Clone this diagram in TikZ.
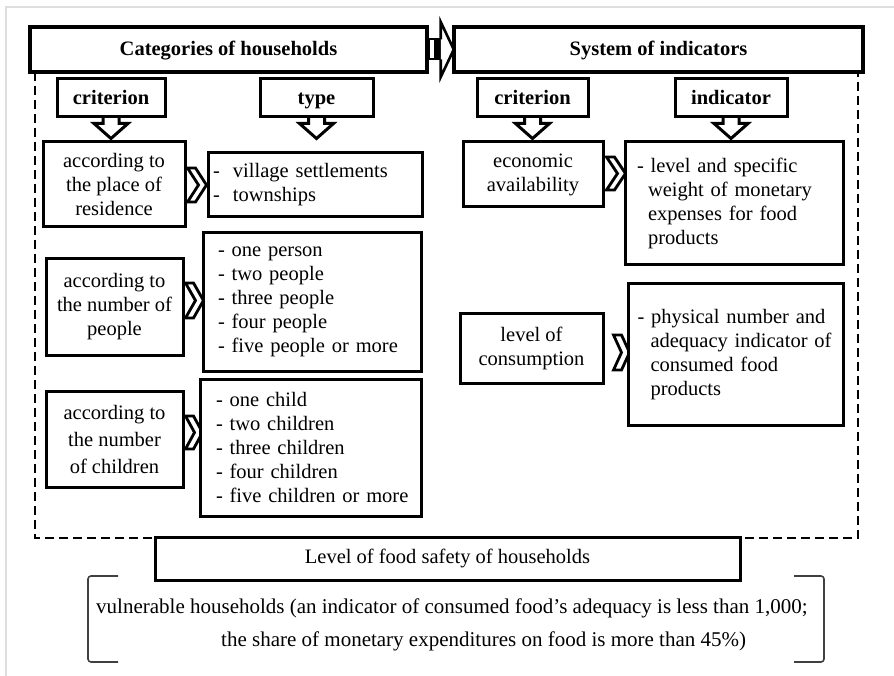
\documentclass[tikz,border=0pt]{standalone}
\usepackage{fontspec}
\setmainfont{Liberation Serif}
\usetikzlibrary{calc,backgrounds}
\newcommand\dnarr[1]{\draw[darr] ($(#1.south)+(-8,-2)$) -- ++(0,7) -- ++(-9,0) -- ++(17,15) -- ++(17,-15) -- ++(-9,0) -- ++(0,-7);}
\newcommand\chevr[3]{\draw[chev] #1 ++(0,-#2) -- ++(8,0) -- ++({#3-8},#2) -- ++({8-#3},#2) -- ++(-8,0) -- ++({#3-8},-#2) -- cycle;}
\begin{document}
\begin{tikzpicture}[x=1pt,y=-1pt,
  box/.style={draw, line width=3pt, fill=white, inner sep=0pt, align=center,
    font=\fontsize{20.5}{24}\selectfont},
  hbox/.style={box, line width=3.5pt, text height=14pt, text depth=1.5pt, font=\bfseries\fontsize{20.5}{24}\selectfont},
  sbox/.style={box, minimum height=38pt, text height=14pt, text depth=1.5pt, font=\bfseries\fontsize{20.5}{24}\selectfont},
  lst/.style={box, align=left},
  txt/.style={inner sep=0pt, font=\fontsize{21}{24}\selectfont},
  chev/.style={draw, line width=2.8pt, fill=white, line join=miter},
  darr/.style={draw, line width=3pt, fill=white, line join=miter},
  dline/.style={line width=1.4pt, dash pattern=on 9pt off 5pt},
  brk/.style={line width=1.6pt, draw=black!75, rounded corners=3pt},
  frm/.style={line width=1.5pt, draw=black!13}]
\useasboundingbox (0,0) rectangle (894,676);

% headers
\node[hbox, minimum width=397pt, minimum height=45pt] (cat) at (228.5,49.5) {Categories of households};
\node[hbox, minimum width=409pt, minimum height=45pt] (sys) at (658.5,49.5) {System of indicators};

% small title boxes
\node[sbox, minimum width=108pt] (crit1) at (111,98) {criterion};
\node[sbox, minimum width=113pt] (type) at (316.5,98) {type};
\node[sbox, minimum width=111pt] (crit2) at (532.5,98) {criterion};
\node[sbox, minimum width=112pt] (ind) at (731,98) {indicator};

% left column
\node[box, minimum width=142pt, minimum height=85pt] (res) at (114,184.5) {according to\\the place of\\residence};
\node[box, minimum width=137pt, minimum height=96pt] (ppl) at (114.5,307) {according to\\the number of\\people};
\node[box, minimum width=137pt, minimum height=96pt] (kids) at (114.5,439) {according to\\[3pt]the number\\[3pt]of children};

\node[lst, text width=204pt, inner xsep=5pt, minimum height=64pt] (resl) at (315,185)
  {\makebox[20pt][l]{-}village settlements\\\makebox[20pt][l]{-}townships};
\node[lst, text width=188pt, inner xsep=15pt, minimum height=138pt] (pplL) at (312,302)
  {- one person\\- two people\\- three people\\- four people\\- five people or more};
\node[lst, text width=189pt, inner xsep=16pt, minimum height=137pt] (kidsL) at (310.5,447.5)
  {- one child\\- two children\\- three children\\- four children\\\mbox{- five children or more}};

% right column
\node[box, minimum width=140pt, minimum height=65pt] (econ) at (533,174.5) {economic\\availability};
\node[lst, text width=194pt, inner xsep=12pt, minimum height=123pt] (mon) at (734,203.5)
  {- level and specific\\\hspace*{11pt}weight of monetary\\\hspace*{11pt}expenses for food\\\hspace*{11pt}products};
\node[box, minimum width=143pt, minimum height=70pt] (cons) at (531.5,348) {level of\\consumption};
\node[lst, text width=196pt, inner xsep=9.5pt, minimum height=141pt] (phys) at (735.5,354.5)
  {- physical number and\\\hspace*{13pt}\mbox{adequacy indicator of}\\\hspace*{13pt}consumed food\\\hspace*{13pt}products};

% bottom
\node[box, minimum width=585pt, minimum height=43pt] (lvl) at (447.5,558.5) {Level of food safety of households};
\node[txt, anchor=west] (vul1) at (96,608) {vulnerable households (an indicator of consumed food’s adequacy is less than 1,000;};
\node[txt, anchor=west] (vul2) at (221,641) {the share of monetary expenditures on food is more than 45\%)};

\begin{scope}[on background layer]
  \draw[frm] (6,676) -- (6,7) -- (894,7);
  \draw[dline] (35,72) -- (35,538) -- (858,538) -- (858,72);
  % header arrow
  \draw[line width=2pt, fill=white] ($(cat.east)+(0,-10)$) rectangle ($(cat.east)+(12,10)$);
  \fill ($(cat.east)+(5,-10)$) rectangle ($(cat.east)+(12,10)$);
  \draw[line width=2.6pt, fill=white, line join=miter] ($(cat.east)+(12,-10)$) -- ++(0,-17.5) -- ++(13,27.5) -- ++(-13,27.5) -- ++(0,-17.5);
  % down arrows
  \dnarr{crit1}
  \dnarr{type}
  \dnarr{crit2}
  \dnarr{ind}
  % chevrons
  \chevr{($(res.east)+(1,0.5)$)}{17}{19}
  \chevr{($(ppl.east)+(1,-6.5)$)}{17.5}{18}
  \chevr{($(kids.east)+(1,-6.5)$)}{16.5}{17}
  \chevr{($(econ.east)+(2,-1)$)}{16.5}{19}
  \chevr{($(cons.east)+(9,4.5)$)}{17.5}{16}
  % brackets
  \draw[brk] (118,576) -- (88,576) -- (88,662) -- (118,662);
  \draw[brk] (794,576) -- (824,576) -- (824,662) -- (794,662);
\end{scope}
\end{tikzpicture}
\end{document}
